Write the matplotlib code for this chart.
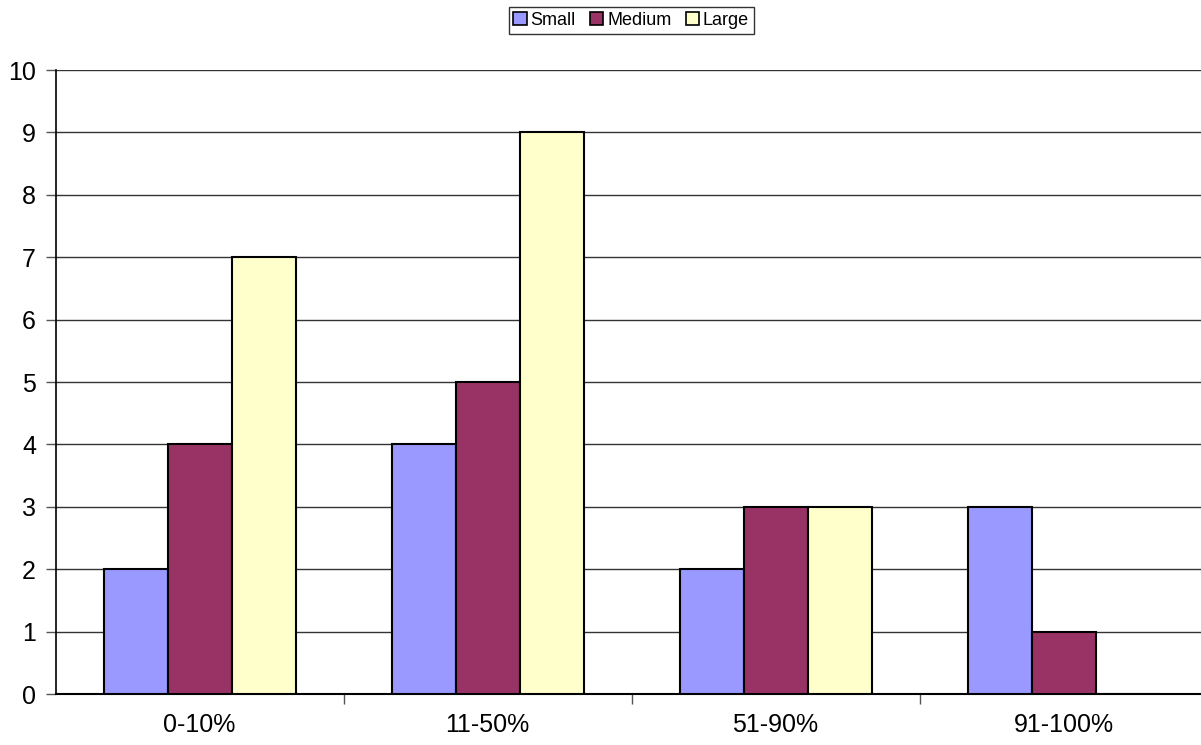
import matplotlib.pyplot as plt
import matplotlib.patches as patches
import numpy as np

plt.rcParams['font.family'] = ['Liberation Sans', 'DejaVu Sans']

categories = ["0-10%", "11-50%", "51-90%", "91-100%"]
small = [2, 4, 2, 3]
medium = [4, 5, 3, 1]
large = [7, 9, 3, 0]

series = [("Small", small, "#9999FF"), ("Medium", medium, "#993366"), ("Large", large, "#FFFFCC")]

fig = plt.figure(figsize=(12.01, 7.45), dpi=100)
ax = fig.add_axes([55.5 / 1201, 51 / 745, 1152 / 1201, 624 / 745])

x = np.arange(len(categories))
w = 1 / 4.5  # Excel gap width 150%
for i, (name, vals, color) in enumerate(series):
    ax.bar(x + (i - 1) * w, vals, width=w, color=color, edgecolor="black", linewidth=1.5,
           label=name, zorder=3)

ax.set_xlim(-0.5, 3.5)
ax.set_ylim(0, 10)
ax.set_yticks(range(0, 11))
ax.yaxis.grid(True, color="#333333", linewidth=1, zorder=0)
ax.set_xticks(x)
ax.set_xticklabels(categories)
ax.set_xticks(np.arange(0.5, 3.5, 1), minor=True)
ax.tick_params(axis="x", which="major", length=0, labelsize=18, pad=14)
ax.tick_params(axis="x", which="minor", length=7, width=1, color="#555555")
ax.tick_params(axis="y", length=7, width=1, color="#555555", labelsize=18, pad=7)
for side in ("top", "right"):
    ax.spines[side].set_visible(False)
ax.spines["left"].set_linewidth(1.2)
ax.spines["bottom"].set_linewidth(1.5)

handles = [patches.Patch(facecolor=c, edgecolor="black", linewidth=1.2, label=n) for n, _, c in series]
leg = fig.legend(handles=handles, loc="center", bbox_to_anchor=(631 / 1201, 1 - 20.5 / 745), ncol=3,
                 fontsize=13, frameon=True, fancybox=False, edgecolor="black",
                 handlelength=0.75, handleheight=0.75, handletextpad=0.2, columnspacing=0.8,
                 borderpad=0.25, borderaxespad=0)
leg.get_frame().set_linewidth(1)

fig.savefig("out.png", dpi=100)
